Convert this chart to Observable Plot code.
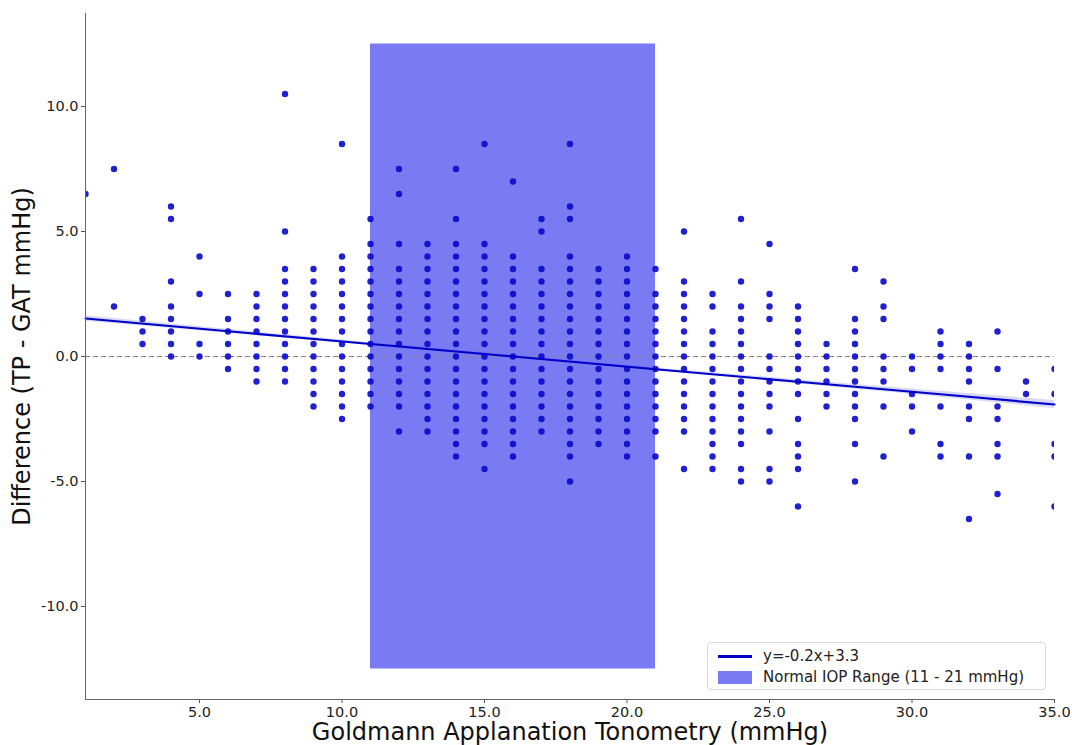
<!DOCTYPE html>
<html><head><meta charset="utf-8">
<script src="https://cdn.jsdelivr.net/npm/d3@7"></script>
<script src="https://cdn.jsdelivr.net/npm/@observablehq/plot@0.6"></script>
<style>
body{margin:0;background:#fff;}
#wrap{position:relative;width:1072px;height:745px;overflow:hidden;font-family:"DejaVu Sans",sans-serif;}
#legend{position:absolute;left:707px;top:642px;width:339px;height:48px;border:1px solid #d9d9d9;border-radius:4px;background:rgba(255,255,255,0.85);font-size:15px;color:#222;box-sizing:border-box;}
.row{position:absolute;left:10px;display:flex;align-items:center;}
.sw-line{width:34px;height:0;border-top:3px solid #0000c8;margin-right:11px;}
.sw-rect{width:34px;height:13px;background:#7a7af2;margin-right:11px;}
</style></head>
<body>
<div id="wrap"><div id="chart"></div>
<div id="legend">
  <div class="row" style="top:4px"><div class="sw-line"></div><span id="leg1"></span></div>
  <div class="row" style="top:25px"><div class="sw-rect"></div><span id="leg2"></span></div>
</div></div>
<script>
// GAT value (mmHg) for each column of points
const gat = [1,2,3,4,5,6,7,8,9,10,11,12,13,14,15,16,17,18,19,20,21,22,23,24,25,26,27,28,29,30,31,32,33,34,35];
// Difference TP - GAT (mmHg) observed at each GAT value
const diffs = [
  [6.5],
  [7.5, 2],
  [1.5, 1, 0.5],
  [6, 5.5, 3, 2, 1.5, 1, 0.5, 0],
  [4, 2.5, 0.5, 0],
  [2.5, 1.5, 1, 0.5, 0, -0.5],
  [2.5, 2, 1.5, 1, 0.5, 0, -0.5, -1],
  [10.5, 5, 3.5, 3, 2.5, 2, 1.5, 1, 0.5, 0, -0.5, -1],
  [3.5, 3, 2.5, 2, 1.5, 1, 0.5, 0, -0.5, -1, -1.5, -2],
  [8.5, 4, 3.5, 3, 2.5, 2, 1.5, 1, 0.5, 0, -0.5, -1, -1.5, -2, -2.5],
  [5.5, 4.5, 4, 3.5, 3, 2.5, 2, 1.5, 1, 0.5, 0, -0.5, -1, -1.5, -2],
  [7.5, 6.5, 4.5, 3.5, 3, 2.5, 2, 1.5, 1, 0.5, 0, -0.5, -1, -1.5, -2, -3],
  [4.5, 4, 3.5, 3, 2.5, 2, 1.5, 1, 0.5, 0, -0.5, -1, -1.5, -2, -2.5, -3],
  [7.5, 5.5, 4.5, 4, 3.5, 3, 2.5, 2, 1.5, 1, 0.5, 0, -0.5, -1, -1.5, -2, -2.5, -3, -3.5, -4],
  [8.5, 4.5, 4, 3.5, 3, 2.5, 2, 1.5, 1, 0.5, 0, -0.5, -1, -1.5, -2, -2.5, -3, -3.5, -4.5],
  [7, 4, 3.5, 3, 2.5, 2, 1.5, 1, 0.5, 0, -0.5, -1, -1.5, -2, -2.5, -3, -3.5, -4],
  [5.5, 5, 3.5, 3, 2.5, 2, 1.5, 1, 0.5, 0, -0.5, -1, -1.5, -2, -2.5, -3],
  [8.5, 6, 5.5, 4, 3.5, 3, 2.5, 2, 1.5, 1, 0.5, 0, -0.5, -1, -1.5, -2, -2.5, -3, -3.5, -4, -5],
  [3.5, 3, 2.5, 2, 1.5, 1, 0.5, 0, -0.5, -1, -1.5, -2, -2.5, -3, -3.5],
  [4, 3.5, 3, 2.5, 2, 1.5, 1, 0.5, 0, -0.5, -1, -1.5, -2, -2.5, -3, -3.5, -4],
  [3.5, 2.5, 2, 1.5, 1, 0.5, 0, -0.5, -1, -1.5, -2, -2.5, -3, -4],
  [5, 3, 2.5, 2, 1.5, 1, 0.5, 0, -0.5, -1, -1.5, -2, -2.5, -3, -4.5],
  [2.5, 2, 1, 0.5, 0, -0.5, -1, -1.5, -2, -2.5, -3, -3.5, -4, -4.5],
  [5.5, 3, 2, 1.5, 1, 0.5, 0, -0.5, -1, -1.5, -2, -2.5, -3, -3.5, -4.5, -5],
  [4.5, 2.5, 2, 1.5, 0, -0.5, -1, -1.5, -2, -3, -4.5, -5],
  [2, 1.5, 1, 0.5, 0, -0.5, -1, -1.5, -2.5, -3.5, -4, -4.5, -6],
  [0.5, 0, -0.5, -1, -1.5, -2],
  [3.5, 1.5, 1, 0.5, 0, -0.5, -1, -1.5, -2, -2.5, -3.5, -5],
  [3, 2, 1.5, 0, -0.5, -1, -2, -4],
  [0, -0.5, -1.5, -2, -3],
  [1, 0.5, 0, -0.5, -2, -3.5, -4],
  [0.5, 0, -0.5, -1, -2, -2.5, -4, -6.5],
  [1, -0.5, -2, -2.5, -3.5, -4, -5.5],
  [-1, -1.5],
  [-0.5, -1.5, -3.5, -4, -6]
];
// Fitted regression line as drawn in the reference (values at GAT positions) and its CI half-width
const fitGat = [1, 6, 11, 16, 21, 26, 31, 35];
const fitDiff = [1.52, 1.01, 0.50, 0.00, -0.51, -1.01, -1.51, -1.92];
const fitCiHalf = [0.11, 0.08, 0.05, 0.04, 0.05, 0.08, 0.12, 0.16];
const normalRange = [11, 21];      // mmHg, shaded band
const normalBandY = [-12.5, 12.5]; // vertical extent of shaded band
const xTicks = [5, 10, 15, 20, 25, 30, 35];
const yTicks = [-10, -5, 0, 5, 10];
const fitLabel = "y=-0.2x+3.3";
const rangeLabel = "Normal IOP Range (11 - 21 mmHg)";
const xTitle = "Goldmann Applanation Tonometry (mmHg)";
const yTitle = "Difference (TP - GAT mmHg)";

const points = gat.flatMap((g, i) => diffs[i].map(d => ({gat: g, diff: d})));
const fit = fitGat.map((g, i) => ({gat: g, diff: fitDiff[i], lo: fitDiff[i] - fitCiHalf[i], hi: fitDiff[i] + fitCiHalf[i]}));
const band = [{x1: normalRange[0], x2: normalRange[1], y1: normalBandY[0], y2: normalBandY[1]}];

document.getElementById("leg1").textContent = fitLabel;
document.getElementById("leg2").textContent = rangeLabel;

const fmt = d => d.toFixed(1);
const chart = Plot.plot({
  width: 1072, height: 745,
  marginLeft: 85, marginRight: 18, marginTop: 13, marginBottom: 46,
  style: {fontFamily: "DejaVu Sans, sans-serif", background: "#fff", color: "#222"},
  x: {domain: [1, 35]},
  y: {domain: [-13.72, 13.72]},
  marks: [
    Plot.rect(band, {x1: "x1", x2: "x2", y1: "y1", y2: "y2", fill: "#7a7af2"}),
    Plot.ruleY([0], {stroke: "#888", strokeWidth: 1.2, strokeDasharray: "5,3"}),
    Plot.dot(points, {x: "gat", y: "diff", r: 3.2, fill: "#0808cc", fillOpacity: 0.9, stroke: "none", clip: true}),
    Plot.areaY(fit, {x: "gat", y1: "lo", y2: "hi", fill: "#0000c8", fillOpacity: 0.15, curve: "natural"}),
    Plot.line(fit, {x: "gat", y: "diff", stroke: "#0000c8", strokeWidth: 2.2}),
    Plot.axisX({ticks: xTicks, tickFormat: fmt, fontSize: 14.5, tickSize: 4, tickPadding: 3, label: null, stroke: "#555"}),
    Plot.axisY({ticks: yTicks, tickFormat: fmt, fontSize: 14.5, tickSize: 4, tickPadding: 3, label: null, stroke: "#555"}),
    Plot.frame({anchor: "left", stroke: "#666"}),
    Plot.frame({anchor: "bottom", stroke: "#666"}),
    Plot.text([xTitle], {frameAnchor: "bottom", dy: 33, fontSize: 24, fill: "#111", lineAnchor: "middle"}),
    Plot.text([yTitle], {frameAnchor: "left", dx: -63, rotate: -90, fontSize: 24, fill: "#111", lineAnchor: "middle", textAnchor: "middle"})
  ]
});
document.getElementById("chart").appendChild(chart);
</script>
</body></html>
